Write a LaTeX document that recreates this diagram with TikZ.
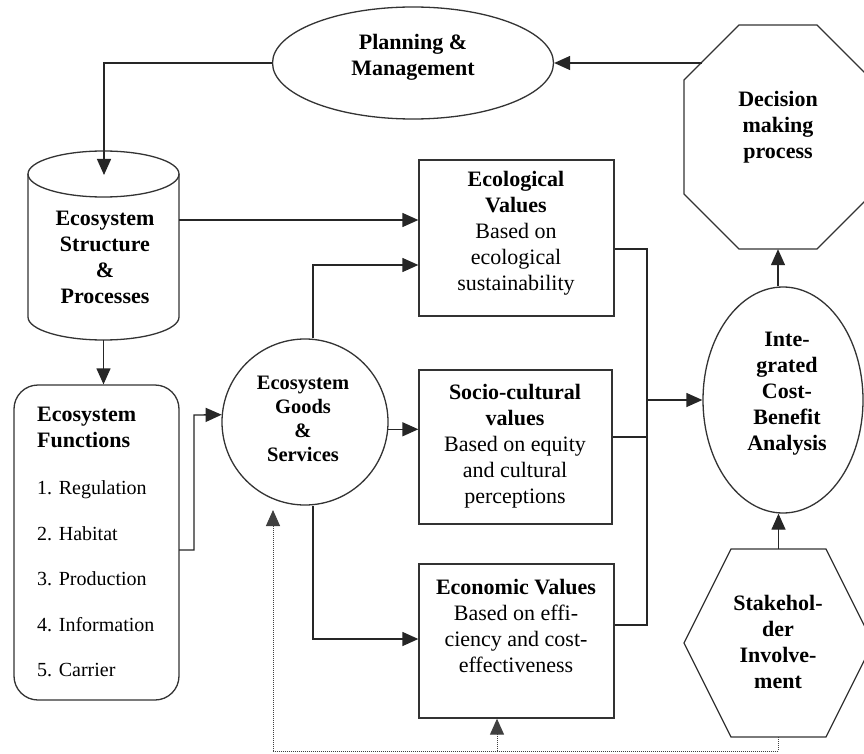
\documentclass[tikz,border=0pt]{standalone}
\usepackage{fontspec}
\setmainfont{Liberation Serif}
\usetikzlibrary{shapes.geometric,arrows.meta}
\begin{document}
\begin{tikzpicture}[x=1pt,y=-1pt,
  shapeline/.style={draw=black!80, line width=1.3pt},
  conn/.style={draw=black!85, line width=1.3pt},
  arr/.style={conn, -{Triangle[length=16pt,width=14pt]}},
  fb/.style={draw=black!75, line width=1pt, dash pattern=on 1pt off 1pt},
  fbarr/.style={fb, -{Triangle[length=16pt,width=14pt]}},
  txt/.style={align=center, inner sep=0pt, font=\fontsize{22}{26}\selectfont},
  itemtxt/.style={anchor=base west, inner sep=0pt, font=\fontsize{20}{24}\selectfont},
  boxshape/.style={shapeline, rectangle, inner sep=0pt},
  holder/.style={inner sep=0pt, draw=none},
]
\useasboundingbox[fill=white] (0,0) rectangle (864,754);

% ---------- shapes ----------
\node[shapeline, ellipse, minimum width=281pt, minimum height=112pt, inner sep=0pt] (plan) at (413,63) {};
\node[txt] (planT) at (413,57) {\textbf{Planning \&}\\\textbf{Management}};

\node[holder, minimum width=188pt, minimum height=224pt] (dec) at (778,137) {};
\draw[shapeline] (739,25) -- (817,25) -- (872,80) -- (872,194) -- (817,249) -- (739,249) -- (684,194) -- (684,80) -- cycle;
\node[txt] (decT) at (778,127) {\textbf{Decision}\\\textbf{making}\\\textbf{process}};

\node[holder, minimum width=151pt, minimum height=189pt] (cyl) at (103.5,245.5) {};
\draw[shapeline] (28,174) -- (28,317) arc[start angle=180, end angle=360, x radius=75.5pt, y radius=23pt] -- (179,174);
\draw[shapeline] (103.5,174) ellipse[x radius=75.5pt, y radius=23pt];
\node[txt] (cylT) at (105,257) {\textbf{Ecosystem}\\\textbf{Structure}\\\textbf{\&}\\\textbf{Processes}};

\node[shapeline, rectangle, rounded corners=24pt, minimum width=165pt, minimum height=315pt, inner sep=0pt] (func) at (96.5,542.5) {};
\node[txt, align=left, anchor=north west] (funcT) at (37,407) {\textbf{Ecosystem}\\\textbf{Functions}};
\node[itemtxt] (it1) at (37,494) {1. Regulation};
\node[itemtxt] (it2) at (37,540) {2. Habitat};
\node[itemtxt] (it3) at (37,585) {3. Production};
\node[itemtxt] (it4) at (37,631) {4. Information};
\node[itemtxt] (it5) at (37,676) {5. Carrier};

\node[shapeline, circle, minimum size=166pt, inner sep=0pt] (goods) at (305,422) {};
\node[txt, font=\fontsize{20.5}{24}\selectfont] (goodsT) at (303,419) {\textbf{Ecosystem}\\\textbf{Goods}\\\textbf{\&}\\\textbf{Services}};

\node[boxshape, minimum width=195pt, minimum height=156pt] (eco) at (516.5,238) {};
\node[txt] (ecoT) at (516,233) {\textbf{Ecological}\\\textbf{Values}\\Based on\\ecological\\sustainability};

\node[boxshape, minimum width=193pt, minimum height=154pt] (soc) at (515.5,447) {};
\node[txt] (socT) at (515,446) {\textbf{Socio-cultural}\\\textbf{values}\\Based on equity\\and cultural\\perceptions};

\node[boxshape, minimum width=195pt, minimum height=154pt] (econ) at (516.5,641) {};
\node[txt] (econT) at (516,626) {\textbf{Economic Values}\\Based on effi-\\ciency and cost-\\effectiveness};

\node[shapeline, ellipse, minimum width=160pt, minimum height=226pt, inner sep=0pt] (integ) at (783,400) {};
\node[txt] (integT) at (787,394) {\textbf{Inte-}\\\textbf{grated}\\\textbf{Cost-}\\\textbf{Benefit}\\\textbf{Analysis}};

\node[holder, minimum width=189pt, minimum height=188pt] (stake) at (778.5,643) {};
\draw[shapeline] (731,549) -- (826,549) -- (873,643) -- (826,737) -- (731,737) -- (684,643) -- cycle;
\node[txt] (stakeT) at (778,642) {\textbf{Stakehol-}\\\textbf{der}\\\textbf{Involve-}\\\textbf{ment}};

% ---------- connectors ----------
\coordinate (cyltop) at (104,175);
\draw[arr] (plan.west) -| (cyltop);
\coordinate (decin) at (702,63);
\draw[arr] (decin) -- (plan.east);
\draw[arr] (cyl.south) -- (cyl.south |- func.north);
\coordinate (c1) at (179,220);
\draw[arr] (c1) -- (c1 -| eco.west);
\coordinate (f1) at (179,550);
\coordinate (f2) at (194,415);
\draw[arr] (f1) -| (f2) -- (goods.175);
\coordinate (g1) at (313,265);
\draw[arr] (g1 |- goods.north) -- (g1) -- (g1 -| eco.west);
\draw[arr] (goods.355) -- (goods.355 -| soc.west);
\coordinate (g2) at (313,639);
\draw[arr] (g2 |- goods.south) -- (g2) -- (g2 -| econ.west);

\coordinate (b1) at (647,249);
\coordinate (b2) at (647,437);
\coordinate (b3) at (647,625);
\coordinate (bus) at (647,400);
\draw[conn] (b1 -| eco.east) -- (b1) -- (b3) -- (b3 -| econ.east);
\draw[conn] (b2 -| soc.east) -- (b2);
\draw[arr] (bus) -- (integ.west);
\draw[arr] (integ.north -| dec.south) -- (dec.south);
\draw[arr] (stake.north) -- (stake.north |- integ.south);

% ---------- dotted feedback ----------
\coordinate (fbR) at (778.5,751);
\coordinate (fbL) at (273,751);
\coordinate (fbT) at (273,510);
\coordinate (fbE) at (497,751);
\draw[fb] (stake.south) -- (fbR) -- (fbL);
\draw[fbarr] (fbL) -- (fbT);
\draw[fbarr] (fbE) -- (fbE |- econ.south);
\end{tikzpicture}
\end{document}
